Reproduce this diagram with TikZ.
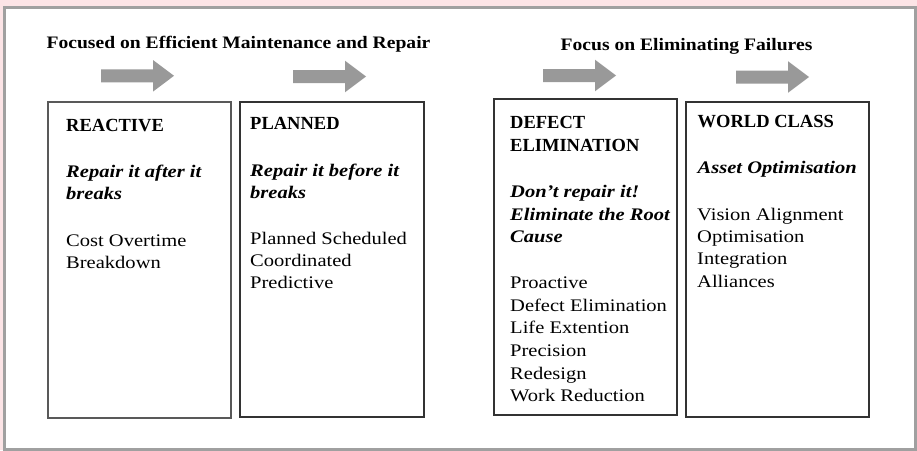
\documentclass[tikz,border=0pt]{standalone}
\usepackage{fontspec}
\setmainfont{Liberation Serif}
\newfontfamily\headfam[FakeStretch=1.12]{Liberation Serif}
\newfontfamily\titlefam{Liberation Serif}
\newfontfamily\bodyfam[FakeStretch=1.16]{Liberation Serif}
\definecolor{pinkbg}{RGB}{252,228,230}
\definecolor{framegray}{RGB}{160,160,160}
\definecolor{arrowgray}{RGB}{153,153,153}
\begin{document}
\begin{tikzpicture}[x=1pt,y=-1pt,
  head/.style={font=\headfam\bfseries\fontsize{17.5}{20}\selectfont, anchor=base, inner sep=0pt},
  ttl/.style={font=\titlefam\bfseries\fontsize{18.5}{22}\selectfont, anchor=base west, inner sep=0pt},
  itl/.style={font=\bodyfam\bfseries\itshape\fontsize{17.7}{22}\selectfont, anchor=base west, inner sep=0pt},
  txt/.style={font=\bodyfam\fontsize{17.7}{22}\selectfont, anchor=base west, inner sep=0pt},
  boxline/.style={draw=black!80, line width=1.2pt},
  bigarrow/.pic={\fill[arrowgray] (0,-6.5) -- (52,-6.5) -- (52,-15.8) -- (73,0) -- (52,15.8) -- (52,6.5) -- (0,6.5) -- cycle;}
]
\useasboundingbox (0,0) rectangle (917,450);
% page background and frame
\fill[pinkbg] (0,0) rectangle (917,450);
\fill[white] (6,9) rectangle (914,448);
\draw[framegray, line width=3pt] (4.5,7.5) rectangle (915.5,449.5);

% headings
\node[head] (h1) at (238.5,48.3) {Focused on Efficient Maintenance and Repair};
\node[head] (h2) at (686.5,50.3) {Focus on Eliminating Failures};

% arrows
\pic at (101,75.8) {bigarrow};
\pic at (293,76.5) {bigarrow};
\pic at (543,75.5) {bigarrow};
\pic at (736,77) {bigarrow};

% boxes
\draw[boxline, draw=black!65] (48,102) rectangle (231,418);
\draw[boxline] (240,102) rectangle (424,417);
\draw[boxline] (494,99) rectangle (677,415);
\draw[boxline] (686,102) rectangle (869,417);

% box 1
\node[ttl] (r1) at (66,131) {REACTIVE};
\node[itl] (r2) at (66,177.5) {Repair it after it};
\node[itl] (r3) at (66,199.3) {breaks};
\node[txt] (r4) at (66,246.5) {Cost Overtime};
\node[txt] (r5) at (66,268.3) {Breakdown};

% box 2
\node[ttl] (p1) at (250,129.5) {PLANNED};
\node[itl] (p2) at (250,176.5) {Repair it before it};
\node[itl] (p3) at (250,198.5) {breaks};
\node[txt] (p4) at (250,244.5) {Planned Scheduled};
\node[txt] (p5) at (250,266.5) {Coordinated};
\node[txt] (p6) at (250,288.5) {Predictive};

% box 3
\node[ttl] (d1) at (510,128.3) {DEFECT};
\node[ttl] (d2) at (510,151.7) {ELIMINATION};
\node[itl] (d3) at (510,197.3) {Don’t repair it!};
\node[itl] (d4) at (510,220) {Eliminate the Root};
\node[itl] (d5) at (510,242.3) {Cause};
\node[txt] (d6) at (510,288.3) {Proactive};
\node[txt] (d7) at (510,311) {Defect Elimination};
\node[txt] (d8) at (510,333.7) {Life Extention};
\node[txt] (d9) at (510,356.3) {Precision};
\node[txt] (d10) at (510,379) {Redesign};
\node[txt] (d11) at (510,401.7) {Work Reduction};

% box 4
\node[ttl] (w1) at (697.5,127.3) {WORLD CLASS};
\node[itl] (w2) at (697.5,173.3) {Asset Optimisation};
\node[txt] (w3) at (697,220) {Vision Alignment};
\node[txt] (w4) at (697,242) {Optimisation};
\node[txt] (w5) at (697,264.7) {Integration};
\node[txt] (w6) at (697,287.5) {Alliances};
\end{tikzpicture}
\end{document}
